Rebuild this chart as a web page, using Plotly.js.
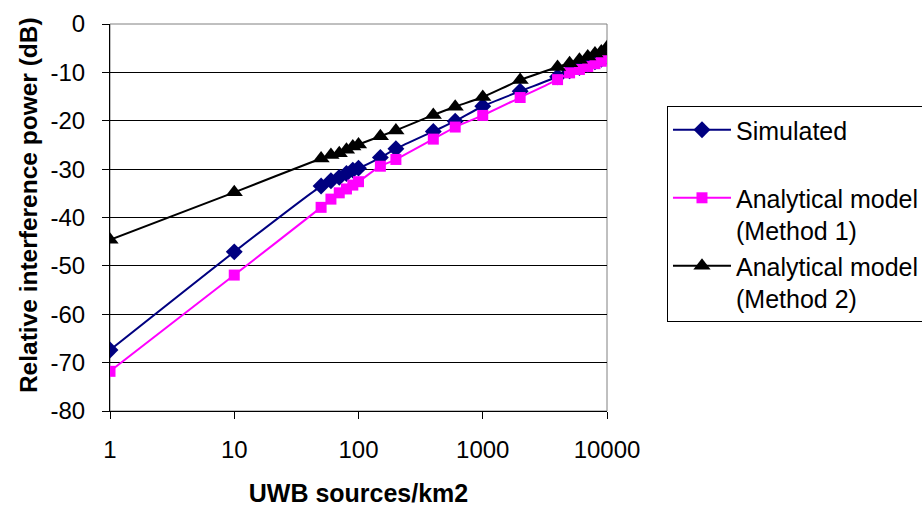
<!DOCTYPE html>
<html>
<head>
<meta charset="utf-8">
<script src="https://cdn.plot.ly/plotly-3.0.1.min.js"></script>
<style>html,body{margin:0;padding:0;background:#fff;}#chart{width:922px;height:507px;}</style>
</head>
<body>
<div id="chart"></div>
<script>
const sources = [1, 10, 50, 60, 70, 80, 90, 100, 150, 200, 400, 600, 1000, 2000, 4000, 5000, 6000, 7000, 8000, 9000, 10000];
const simulated = [-67.4, -47.1, -33.5, -32.4, -31.7, -30.9, -30.2, -29.8, -27.6, -25.8, -22.2, -20.1, -17.0, -13.9, -10.9, -9.7, -9.0, -8.4, -7.8, -7.3, -6.7];
const method1 = [-71.8, -51.9, -37.9, -36.2, -34.9, -34.1, -33.3, -32.6, -29.4, -28.0, -23.8, -21.3, -18.9, -15.2, -11.5, -10.1, -9.4, -8.8, -8.2, -7.7, -7.0];
const method2 = [-44.6, -34.8, -27.8, -27.1, -26.7, -26.0, -25.3, -24.9, -23.2, -22.0, -18.8, -17.1, -15.1, -11.6, -8.9, -8.1, -7.4, -6.7, -6.1, -5.7, -4.8];
const seriesNames = ['Simulated<br>\u00a0', 'Analytical model<br>(Method 1)', 'Analytical model<br>(Method 2)'];
const xTickVals = [1, 10, 100, 1000, 10000];
const xTickText = ['1', '10', '100', '1000', '10000'];
const yTickVals = [0, -10, -20, -30, -40, -50, -60, -70, -80];
const yTickText = ['0', '-10', '-20', '-30', '-40', '-50', '-60', '-70', '-80'];
const xTitle = 'UWB sources/km2';
const yTitle = 'Relative interference power (dB)';

const FONT = '"Liberation Sans", Arial, sans-serif';

const traces = [
  {x: sources, y: simulated, name: seriesNames[0], mode: 'lines+markers',
   line: {color: '#000080', width: 2, shape: 'spline', smoothing: 0.6},
   marker: {symbol: 'diamond', size: 13, color: '#000080'}},
  {x: sources, y: method1, name: seriesNames[1], mode: 'lines+markers',
   line: {color: '#FF00FF', width: 2, shape: 'spline', smoothing: 0.6},
   marker: {symbol: 'square', size: 11, color: '#FF00FF'}},
  {x: sources, y: method2, name: seriesNames[2], mode: 'lines+markers',
   line: {color: '#000000', width: 2, shape: 'spline', smoothing: 0.6},
   marker: {symbol: 'triangle-up', size: 15, color: '#000000'}}
];

const layout = {
  width: 922, height: 507,
  margin: {l: 110, r: 315, t: 24, b: 96, autoexpand: false},
  paper_bgcolor: '#ffffff', plot_bgcolor: '#ffffff',
  font: {family: FONT, size: 24, color: '#000'},
  showlegend: true,
  legend: {x: 1.1207, y: 0.788, xanchor: 'left', yanchor: 'top',
           bordercolor: '#000', borderwidth: 1, bgcolor: '#fff',
           font: {family: FONT, size: 25, color: '#000'}, valign: 'top', itemwidth: 58,
           tracegroupgap: 0},
  xaxis: {type: 'log', range: [0, 4], tickvals: xTickVals, ticktext: xTickText,
          showgrid: false, zeroline: false, showline: true, linecolor: '#000', linewidth: 1,
          ticks: 'outside', ticklen: 7, tickcolor: '#000', ticklabelstandoff: 10,
          tickfont: {family: FONT, size: 24},
          title: {text: xTitle, font: {family: FONT, size: 25, color: '#000', weight: 'bold'}, standoff: 29}},
  yaxis: {range: [-80, 0], tickvals: yTickVals, ticktext: yTickText,
          showgrid: true, gridcolor: '#000', gridwidth: 1, zeroline: false,
          showline: true, linecolor: '#000', linewidth: 1,
          ticks: 'outside', ticklen: 7, tickcolor: '#000', ticklabelstandoff: 12,
          tickfont: {family: FONT, size: 24}},
  annotations: [
    {text: yTitle, xref: 'paper', yref: 'paper', x: -0.165, y: 0.532,
     xanchor: 'center', yanchor: 'middle', textangle: -90, showarrow: false,
     font: {family: FONT, size: 24.5, color: '#000', weight: 'bold'}}
  ],
  shapes: [
    {type: 'rect', xref: 'paper', yref: 'paper', x0: 0, x1: 1, y0: 0, y1: 1,
     line: {color: '#808080', width: 1}, layer: 'below'}
  ]
};

Plotly.newPlot('chart', traces, layout, {staticPlot: true});
</script>
</body>
</html>
